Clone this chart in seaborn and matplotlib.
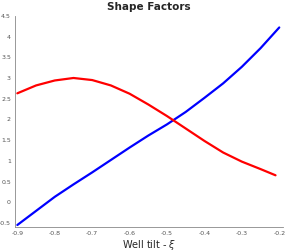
import numpy as np
import pandas as pd
import matplotlib
matplotlib.use('Agg')
import matplotlib.pyplot as plt
import seaborn as sns

# values
tilt = [-0.9, -0.85, -0.8, -0.75, -0.7, -0.65, -0.6, -0.55, -0.5, -0.45, -0.4, -0.35, -0.3, -0.25, -0.2]
blue_vals = [-0.55, -0.21, 0.13, 0.43, 0.72, 1.02, 1.32, 1.61, 1.88, 2.18, 2.52, 2.87, 3.27, 3.72, 4.22]
red_tilt = [-0.9, -0.85, -0.8, -0.75, -0.7, -0.65, -0.6, -0.55, -0.5, -0.45, -0.4, -0.35, -0.3, -0.25, -0.21]
red_vals = [2.63, 2.82, 2.94, 3.0, 2.95, 2.82, 2.62, 2.36, 2.08, 1.78, 1.48, 1.2, 0.98, 0.8, 0.65]

xticks = [-0.9, -0.8, -0.7, -0.6, -0.5, -0.4, -0.3, -0.2]
yticks = [-0.5, 0, 0.5, 1, 1.5, 2, 2.5, 3, 3.5, 4, 4.5]

sns.set_style('white')
plt.rcParams['font.family'] = ['DejaVu Sans']

df_b = pd.DataFrame({'x': tilt, 'y': blue_vals})
df_r = pd.DataFrame({'x': red_tilt, 'y': red_vals})

fig = plt.figure(figsize=(2.85, 2.52), dpi=100)
ax = fig.add_axes([0.053, 0.099, 0.94, 0.838])

sns.lineplot(data=df_b, x='x', y='y', color='#0000ff', linewidth=1.6, ax=ax)
sns.lineplot(data=df_r, x='x', y='y', color='#ff0000', linewidth=1.6, ax=ax)

ax.set_xlim(-0.906, -0.19)
ax.set_ylim(-0.6, 4.5)
ax.set_xticks(xticks)
ax.set_yticks(yticks)
ax.set_xticklabels([f'{v:g}' for v in xticks])
ax.set_yticklabels([f'{v:g}' for v in yticks])
ax.tick_params(axis='both', labelsize=4.5, colors='#555555', length=1.5, width=0.5, direction='out', pad=1.5)
for s in ['top', 'right']:
    ax.spines[s].set_visible(False)
for s in ['left', 'bottom']:
    ax.spines[s].set_color('#888888')
    ax.spines[s].set_linewidth(0.6)

ax.set_xlabel(r'Well tilt - $\xi$', fontsize=7, labelpad=1)
ax.set_ylabel('')
ax.set_title('Shape Factors', fontsize=7.5, fontweight='bold', pad=4)

fig.savefig('out.png', dpi=100)
